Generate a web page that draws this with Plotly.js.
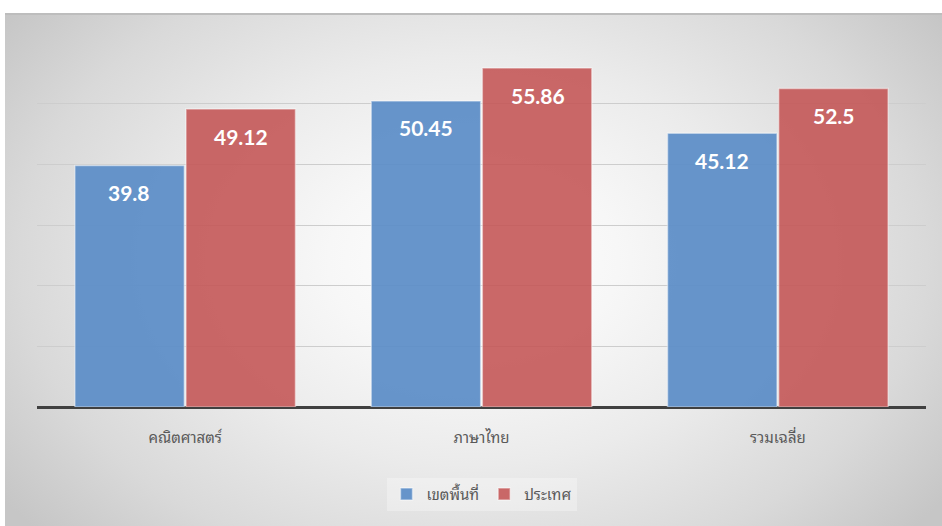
<!DOCTYPE html>
<html>
<head>
<meta charset="utf-8">
<script src="https://cdn.plot.ly/plotly-3.0.1.min.js"></script>
<style>
html,body{margin:0;padding:0;background:#ffffff;}
#bg{position:absolute;left:5px;top:13px;width:937px;height:513px;
 background:radial-gradient(ellipse 62% 80% at 50% 48%, #ffffff 0%, #f7f7f7 25%, #ebebeb 50%, #d9d9d9 78%, #c6c6c6 100%);
 border-top:2px solid #bdbdbd;box-sizing:border-box;}
#chart{position:absolute;left:0;top:0;width:942px;height:526px;}
</style>
</head>
<body>
<div id="bg"></div>
<div id="chart"></div>
<script>
const categories = ['คณิตศาสตร์', 'ภาษาไทย', 'รวมเฉลี่ย'];
const seriesNames = ['เขตพื้นที่', 'ประเทศ'];
const areaValues = [39.8, 50.45, 45.12];
const nationValues = [49.12, 55.86, 52.5];
const seriesColors = ['rgba(91,141,199,0.93)', 'rgba(196,88,88,0.9)'];

const series = [areaValues, nationValues];
const traces = series.map((vals, i) => ({
  type: 'bar',
  name: seriesNames[i],
  x: categories,
  y: vals,
  marker: {color: seriesColors[i], line: {color: 'rgba(255,255,255,0.45)', width: 1.5}},
  hoverinfo: 'none'
}));

const annotations = [];
series.forEach((vals, i) => {
  vals.forEach((v, j) => {
    annotations.push({
      x: categories[j], y: v, xref: 'x', yref: 'y',
      text: '<b>' + v + '</b>', showarrow: false,
      xshift: i === 0 ? -56 : 56, yshift: -27,
      font: {family: 'Lato, "Open Sans", sans-serif', size: 21, color: '#ffffff'}
    });
  });
});

const layout = {
  width: 942, height: 526,
  paper_bgcolor: 'rgba(0,0,0,0)', plot_bgcolor: 'rgba(0,0,0,0)',
  margin: {l: 37, r: 16, t: 43, b: 119},
  barmode: 'group', bargap: 0.25, bargroupgap: 0.015,
  font: {family: '"Noto Sans Thai Looped", "Noto Sans Thai", "Noto Sans", "DejaVu Sans", sans-serif', color: '#595959'},
  xaxis: {
    tickfont: {size: 15, color: '#595959'}, ticks: '', showline: false,
    showgrid: false, zeroline: false, ticklabelstandoff: 20
  },
  yaxis: {
    range: [0, 60], dtick: 10, showticklabels: false, ticks: '',
    gridcolor: '#cdcdcd', gridwidth: 1, zeroline: true, zerolinecolor: '#404040', zerolinewidth: 3,
    showline: false
  },
  showlegend: true,
  legend: {
    orientation: 'h', x: 0.5, xanchor: 'center', y: -0.24, yanchor: 'middle',
    bgcolor: 'rgba(255,255,255,0.3)', font: {size: 15, color: '#595959'},
    itemwidth: 30
  },
  annotations: annotations
};

Plotly.newPlot('chart', traces, layout, {displayModeBar: false, staticPlot: true});
</script>
</body>
</html>
